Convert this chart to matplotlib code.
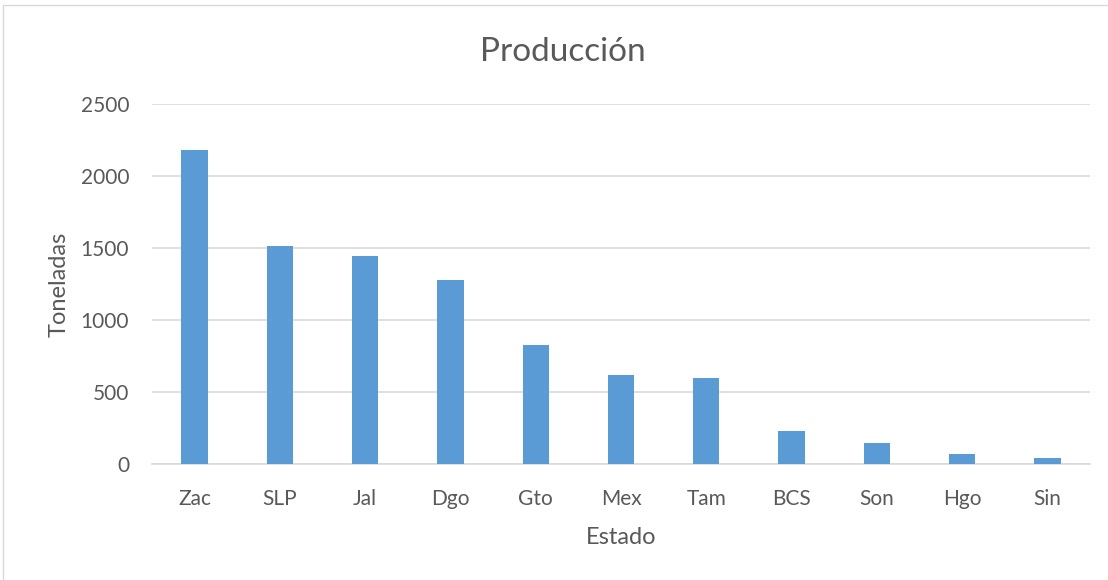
import matplotlib.pyplot as plt
from matplotlib.patches import Rectangle

# production per state, tonnes
estados = ['Zac', 'SLP', 'Jal', 'Dgo', 'Gto', 'Mex', 'Tam', 'BCS', 'Son', 'Hgo', 'Sin']
toneladas = [2184, 1513, 1444, 1276, 826, 620, 597, 231, 148, 67, 44]
yticks = [0, 500, 1000, 1500, 2000, 2500]

txt = '#595959'
plt.rcParams['font.family'] = ['Lato', 'DejaVu Sans']

fig = plt.figure(figsize=(11.08, 5.80), dpi=100)
ax = fig.add_axes([152 / 1108, 1 - 464 / 580, (1090 - 152) / 1108, (464 - 104) / 580])

# chart area border
fig.patches.append(Rectangle((3 / 1108, -0.1), 1.2, 1 - 5 / 580 + 0.1,
                             transform=fig.transFigure, fill=False,
                             edgecolor='#D9D9D9', linewidth=1))

x = range(len(estados))
ax.bar(x, toneladas, width=0.31, color='#5B9BD5', zorder=3)
ax.set_xlim(-0.5, len(estados) - 0.5)
ax.set_ylim(0, 2500)
ax.set_yticks(yticks)
ax.set_xticks(list(x))
ax.set_xticklabels(estados)
ax.grid(axis='y', color='#D9D9D9', linewidth=1.2, zorder=0)
for s in ['top', 'right', 'left']:
    ax.spines[s].set_visible(False)
ax.spines['bottom'].set_color('#D9D9D9')
ax.spines['bottom'].set_linewidth(1.2)
ax.tick_params(length=0, labelsize=15, colors=txt)
ax.tick_params(axis='x', pad=18)
ax.tick_params(axis='y', pad=16.5)

ax.set_xlabel('Estado', fontsize=17, color=txt, labelpad=13)
ax.set_ylabel('Toneladas', fontsize=17, color=txt, labelpad=8)
fig.text(563 / 1108, 1 - 61 / 580, 'Producción', ha='center', va='baseline',
         fontsize=24, color=txt)

fig.savefig('out.png', dpi=100, facecolor='white')
